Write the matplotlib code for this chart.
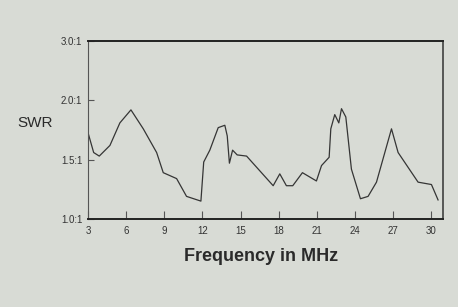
import numpy as np
import matplotlib
matplotlib.use("Agg")
import matplotlib.pyplot as plt

# -----------------------------------
# Data
# -----------------------------------

freq_mhz = [3.0, 3.45, 3.89, 4.73, 5.51, 6.38, 7.35, 8.4, 8.92, 9.97, 10.75,
            11.88, 12.1, 12.58, 13.24, 13.76, 13.95, 14.12, 14.37, 14.73,
            15.47, 17.56, 18.08, 18.6, 19.1, 19.86, 20.96, 21.36, 21.96,
            22.09, 22.4, 22.72, 22.93, 23.27, 23.71, 24.42, 25.02, 25.68,
            26.86, 27.38, 28.95, 30.0, 30.52]
swr = [1.73, 1.56, 1.53, 1.62, 1.81, 1.92, 1.76, 1.56, 1.39, 1.34, 1.19,
       1.15, 1.48, 1.58, 1.77, 1.79, 1.70, 1.47, 1.58, 1.54,
       1.53, 1.28, 1.38, 1.28, 1.28, 1.39, 1.32, 1.45, 1.52,
       1.76, 1.88, 1.81, 1.93, 1.86, 1.42, 1.17, 1.19, 1.31,
       1.76, 1.56, 1.31, 1.29, 1.16]

x_ticks = [3, 6, 9, 12, 15, 18, 21, 24, 27, 30]
y_ticks = [1.0, 1.5, 2.0, 3.0]
y_tick_labels = ["1.0:1", "1.5:1", "2.0:1", "3.0:1"]

# SWR axis: the printed ticks are evenly spaced
y_pos = [0, 1, 2, 3]


def swr_fwd(v):
    return np.interp(v, y_ticks, y_pos)


def swr_inv(p):
    return np.interp(p, y_pos, y_ticks)


# -----------------------------------
# Plot
# -----------------------------------

plt.rcParams['font.family'] = ['Liberation Sans', 'DejaVu Sans']

bg = "#d8dbd5"
fig = plt.figure(figsize=(4.58, 3.07), dpi=100, facecolor=bg)
ax = fig.add_axes([0.192, 0.287, 0.775, 0.579])
ax.set_facecolor(bg)

ax.plot(freq_mhz, swr, color="#353535", lw=0.9)

ax.set_yscale('function', functions=(swr_fwd, swr_inv))
ax.set_ylim(1.0, 3.0)
ax.set_xlim(3, 30.9)

ax.set_xticks(x_ticks)
ax.set_yticks(y_ticks)
ax.set_yticklabels(y_tick_labels)
ax.minorticks_off()

ax.tick_params(axis='x', direction='in', length=5.5, width=0.8,
               color="#555555", labelsize=7, labelcolor="#333333", pad=5)
ax.tick_params(axis='y', direction='in', length=4.5, width=0.8,
               color="#555555", labelsize=7, labelcolor="#333333", pad=4)

ax.spines['top'].set_linewidth(1.4)
ax.spines['top'].set_color("#222222")
ax.spines['bottom'].set_linewidth(1.4)
ax.spines['bottom'].set_color("#222222")
ax.spines['left'].set_linewidth(0.8)
ax.spines['left'].set_color("#555555")
ax.spines['right'].set_linewidth(1.1)
ax.spines['right'].set_color("#333333")

fig.text(0.037, 0.6, "SWR", fontsize=11, color="#2a2a2a", va='center', ha='left')
fig.text(0.57, 0.163, "Frequency in MHz", fontsize=13, fontweight='bold',
         color="#2a2a2a", ha='center', va='center')

plt.savefig("out.png", dpi=100, facecolor=bg)
